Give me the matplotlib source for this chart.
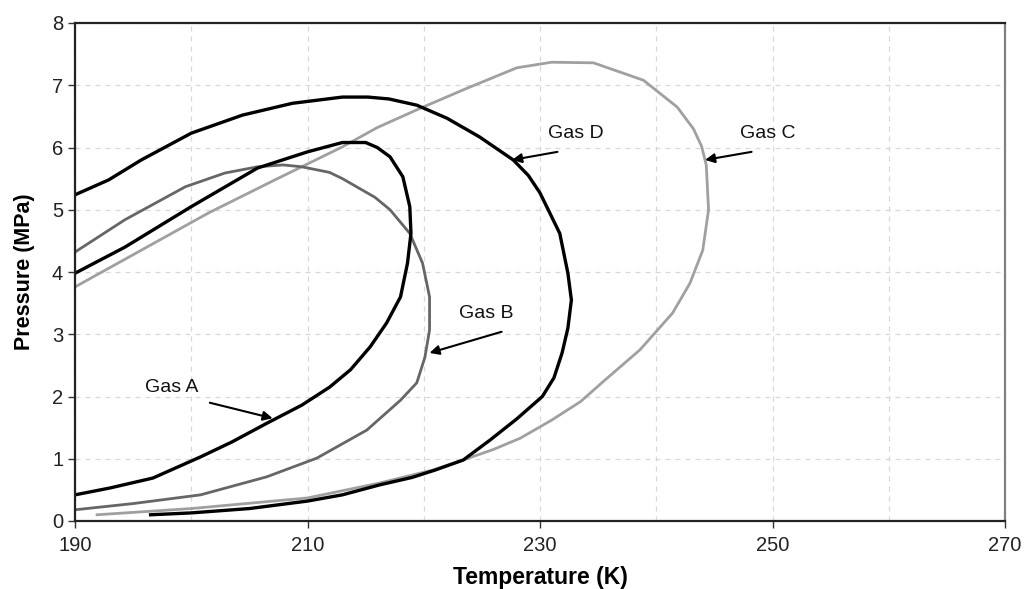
import numpy as np
import matplotlib.pyplot as plt

plt.rcParams['font.family'] = ['Liberation Sans', 'DejaVu Sans']

# phase envelopes: temperature (K), pressure (MPa)
gas_a_t = [190.0, 193.0, 196.7, 200.8, 203.5, 206.5, 209.5, 211.9, 213.7, 215.4,
           216.8, 218.0, 218.6, 218.9, 218.8, 218.2, 217.1, 216.0, 215.0, 213.0,
           210.0, 205.7, 200.0, 194.3, 190.0]
gas_a_p = [0.42, 0.53, 0.69, 1.03, 1.27, 1.57, 1.86, 2.15, 2.43, 2.80,
           3.18, 3.60, 4.14, 4.62, 5.05, 5.53, 5.85, 6.00, 6.08, 6.08,
           5.93, 5.67, 5.05, 4.40, 3.98]

gas_b_t = [190.0, 195.0, 200.8, 206.5, 210.8, 215.1, 218.0, 219.4, 220.1, 220.5,
           220.5, 219.9, 218.8, 217.1, 215.8, 213.0, 211.9, 209.5, 207.9, 205.7,
           202.9, 199.5, 194.3, 190.0]
gas_b_p = [0.18, 0.28, 0.42, 0.71, 1.01, 1.46, 1.94, 2.22, 2.63, 3.07,
           3.60, 4.14, 4.62, 5.00, 5.20, 5.50, 5.60, 5.69, 5.72, 5.69,
           5.59, 5.37, 4.84, 4.32]

gas_c_t = [191.9, 200.0, 210.0, 216.2, 220.8, 223.4, 226.0, 228.3, 231.0, 233.5,
           235.5, 238.6, 241.4, 242.9, 244.0, 244.5, 244.3, 243.9, 243.2, 241.8,
           238.9, 234.6, 231.0, 228.0, 223.7, 219.7, 216.0, 213.0, 207.2, 201.5,
           195.7, 190.0]
gas_c_p = [0.10, 0.20, 0.37, 0.61, 0.82, 0.98, 1.15, 1.33, 1.62, 1.92,
           2.25, 2.75, 3.34, 3.82, 4.35, 5.00, 5.72, 6.02, 6.30, 6.65,
           7.08, 7.36, 7.37, 7.28, 6.95, 6.63, 6.32, 6.01, 5.48, 4.95,
           4.35, 3.76]

gas_d_t = [196.5, 200.0, 205.0, 210.0, 213.0, 216.2, 219.0, 221.0, 223.4, 225.7,
           228.0, 230.2, 231.2, 231.9, 232.4, 232.7, 232.4, 231.7, 230.0, 229.0,
           227.7, 224.8, 222.0, 219.4, 217.0, 215.2, 213.0, 208.7, 204.4, 200.0,
           195.7, 192.9, 190.0]
gas_d_p = [0.10, 0.13, 0.20, 0.32, 0.42, 0.58, 0.70, 0.82, 0.98, 1.30,
           1.64, 2.00, 2.30, 2.70, 3.10, 3.55, 3.98, 4.62, 5.27, 5.55,
           5.80, 6.17, 6.47, 6.68, 6.78, 6.81, 6.81, 6.71, 6.52, 6.23,
           5.80, 5.48, 5.24]

labels = ["Gas A", "Gas B", "Gas D", "Gas C"]
label_xy = [(198.3, 2.15), (225.4, 3.34), (233.1, 6.23), (249.6, 6.23)]
arrow_tail = [(201.6, 1.90), (226.7, 3.04), (231.5, 5.93), (248.2, 5.93)]
arrow_head = [(207.0, 1.65), (220.5, 2.70), (227.6, 5.80), (244.2, 5.80)]


def main():
    fig = plt.figure(figsize=(10.27, 5.89), dpi=100)
    ax = fig.add_axes([75 / 1027, 68 / 589, 930 / 1027, 498 / 589])

    # lighter curves first so the black ones sit on top
    ax.plot(gas_c_t, gas_c_p, color="#a0a0a0", lw=2.0, solid_joinstyle="round")
    ax.plot(gas_b_t, gas_b_p, color="#666666", lw=2.0, solid_joinstyle="round")
    ax.plot(gas_d_t, gas_d_p, color="black", lw=2.4, solid_joinstyle="round")
    ax.plot(gas_a_t, gas_a_p, color="black", lw=2.4, solid_joinstyle="round")

    for lab, xy, tail, head in zip(labels, label_xy, arrow_tail, arrow_head):
        ax.text(xy[0], xy[1], lab, fontsize=14, ha="center", va="center", color="#111111")
        ax.annotate("", xy=head, xytext=tail,
                    arrowprops=dict(arrowstyle="-|>", color="black", lw=1.5,
                                    mutation_scale=14, shrinkA=0, shrinkB=0))

    ax.set_xlim(190, 270)
    ax.set_ylim(0, 8)
    ax.set_xticks(np.arange(190, 271, 20))
    ax.set_xticks(np.arange(190, 271, 10), minor=True)
    ax.set_yticks(np.arange(0, 9, 1))
    ax.grid(True, which="both", color="#d8d8d8", linestyle=(0, (4, 4)), lw=0.9)
    ax.tick_params(axis="both", which="major", labelsize=14.5, length=5, width=1,
                   colors="#333333", labelcolor="#222222")
    ax.tick_params(axis="x", which="minor", length=0)
    ax.tick_params(axis="x", pad=6)

    for side in ["left", "bottom", "top"]:
        ax.spines[side].set_color("#222222")
        ax.spines[side].set_linewidth(1.6)
    ax.spines["right"].set_color("#808080")
    ax.spines["right"].set_linewidth(1.6)

    ax.set_xlabel("Temperature (K)", fontsize=16.5, fontweight="bold", labelpad=8)
    ax.set_ylabel("Pressure (MPa)", fontsize=15.5, fontweight="bold", labelpad=12)

    fig.savefig("out.png", dpi=100)


if __name__ == "__main__":
    main()
